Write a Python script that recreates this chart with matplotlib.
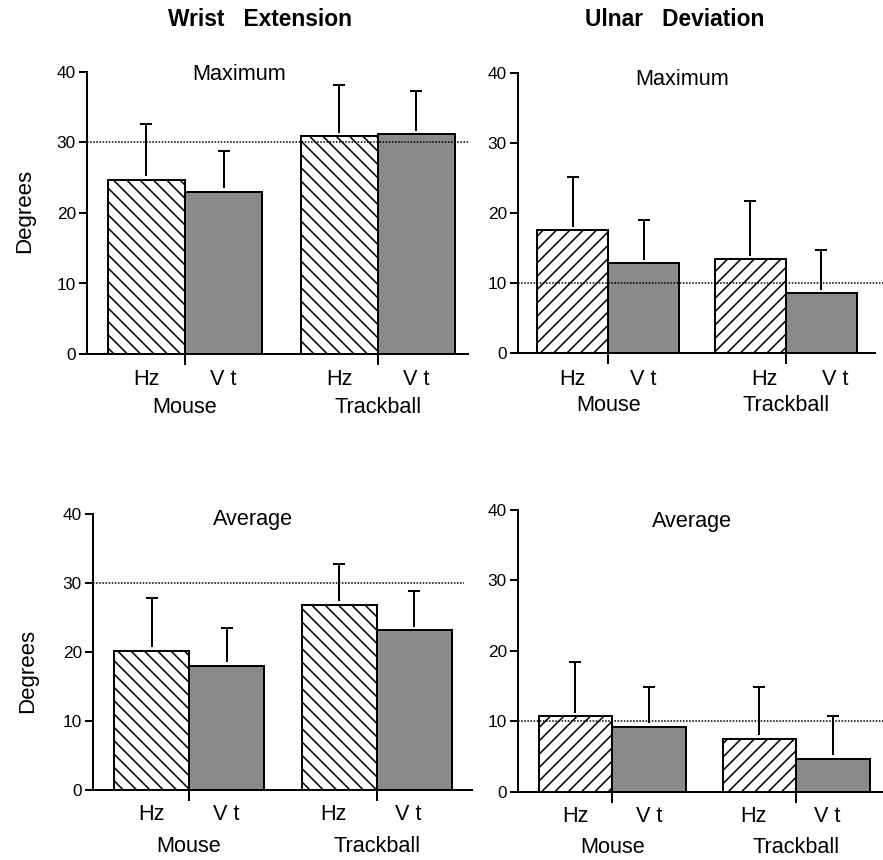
import numpy as np
import matplotlib
matplotlib.use("Agg")
import matplotlib.pyplot as plt

plt.rcParams['font.family'] = ['Liberation Sans', 'DejaVu Sans']
plt.rcParams['hatch.linewidth'] = 1.4

# ---- data ----
devices = ["Mouse", "Trackball"]
postures = ["Hz", "V t"]
panel_names = ["Maximum", "Maximum", "Average", "Average"]
column_titles = ["Wrist   Extension", "Ulnar   Deviation"]

# values ordered: Mouse-Hz, Mouse-Vt, Trackball-Hz, Trackball-Vt
we_max_mean = [24.7, 23.0, 30.9, 31.2]
we_max_top = [32.6, 28.8, 38.2, 37.3]
ud_max_mean = [17.5, 12.8, 13.4, 8.5]
ud_max_top = [25.1, 19.0, 21.7, 14.7]
we_avg_mean = [20.2, 18.0, 26.9, 23.2]
we_avg_top = [27.8, 23.5, 32.8, 28.9]
ud_avg_mean = [10.7, 9.2, 7.5, 4.7]
ud_avg_top = [18.4, 14.9, 14.9, 10.8]
reference_lines = [30, 10, 30, 10]
y_ticks = [0, 10, 20, 30, 40]

means = [we_max_mean, ud_max_mean, we_avg_mean, ud_avg_mean]
tops = [we_max_top, ud_max_top, we_avg_top, ud_avg_top]

# ---- layout ----
DPI = 80
W, H = 883, 860
fig = plt.figure(figsize=(W / DPI, H / DPI), dpi=DPI)

# axes rectangles in pixels: (left, top(40), right, bottom(0))
rects_px = [(87, 72, 468, 354), (518, 72.7, 875, 353),
            (93, 514.3, 472, 790), (518, 510, 883, 791.7)]
xlims = [(-0.77, 4.17), (-0.77, 4.26), (-0.78, 4.27), (-0.78, 4.18)]
hatches = ['\\\\', '//', '\\\\', '//']
title_pos = [(1.2, 39.7), (1.54, 38.96), (1.35, 39.2), (1.58, 38.4)]
lab_off = [(-23, -48), (-24, -47), (-22, -51), (-22, -50)]  # points below axis
tb_shift = [0.0, 0.2, -0.08, -0.08]
dot_xmax = [1.0, 1.03, 0.98, 1.0]

x = np.array([0, 1, 2.5, 3.5])
gray = '#8a8a8a'
lw = 1.8

for i in range(4):
    l, t, r, b = rects_px[i]
    ax = fig.add_axes([l / W, 1 - b / H, (r - l) / W, (b - t) / H])
    ax.set_xlim(*xlims[i])
    ax.set_ylim(0, 40)
    for s in ['top', 'right']:
        ax.spines[s].set_visible(False)
    for s in ['left', 'bottom']:
        ax.spines[s].set_linewidth(lw)
    ax.set_yticks(y_ticks)
    ax.set_yticklabels([str(v) for v in y_ticks])
    ax.tick_params(axis='y', length=7, width=lw, labelsize=15.5, pad=3)
    ax.set_xticks([0.5, 3.0])
    ax.set_xticklabels([])
    ax.tick_params(axis='x', length=10, width=lw, direction='out')

    m = np.array(means[i])
    tp = np.array(tops[i])
    fcs = ['white', gray, 'white', gray]
    hs = [hatches[i], None, hatches[i], None]
    for j in range(4):
        ax.bar(x[j], m[j], width=1.0, color=fcs[j], edgecolor='black',
               linewidth=lw, hatch=hs[j], zorder=2)
    ax.vlines(x, m + 0.5, tp, colors='black', linewidth=lw, zorder=3)
    ax.plot(x, tp, linestyle='none', marker='_', markersize=10.5,
            markeredgewidth=lw, color='black', zorder=3)
    ax.axhline(reference_lines[i], xmin=0, xmax=dot_xmax[i], color='black',
               linestyle=(0, (1, 1)), linewidth=1.4, zorder=4, clip_on=False)

    ax.text(title_pos[i][0], title_pos[i][1], panel_names[i], ha='center',
            va='center', fontsize=19.5)

    # posture labels
    for j in range(4):
        xx = x[j] + (tb_shift[i] if j >= 2 else 0.0)
        ax.annotate(postures[j % 2], xy=(xx, 0), xycoords=('data', 'axes fraction'),
                    xytext=(0, lab_off[i][0]), textcoords='offset points',
                    ha='center', va='center', fontsize=19.5)
    for k, gx in enumerate([0.5, 3.0]):
        ax.annotate(devices[k], xy=(gx, 0), xycoords=('data', 'axes fraction'),
                    xytext=(0, lab_off[i][1]), textcoords='offset points',
                    ha='center', va='center', fontsize=19.5)

fig.text(260 / W, 1 - 20 / H, column_titles[0], ha='center', va='center',
         fontsize=20.5, fontweight='bold')
fig.text(675 / W, 1 - 19 / H, column_titles[1], ha='center', va='center',
         fontsize=20.5, fontweight='bold')
fig.text(25 / W, 1 - 211 / H, "Degrees", rotation=90, ha='center',
         va='center', fontsize=20)
fig.text(28 / W, 1 - 671 / H, "Degrees", rotation=90, ha='center',
         va='center', fontsize=20)

fig.savefig("out.png", dpi=DPI)
